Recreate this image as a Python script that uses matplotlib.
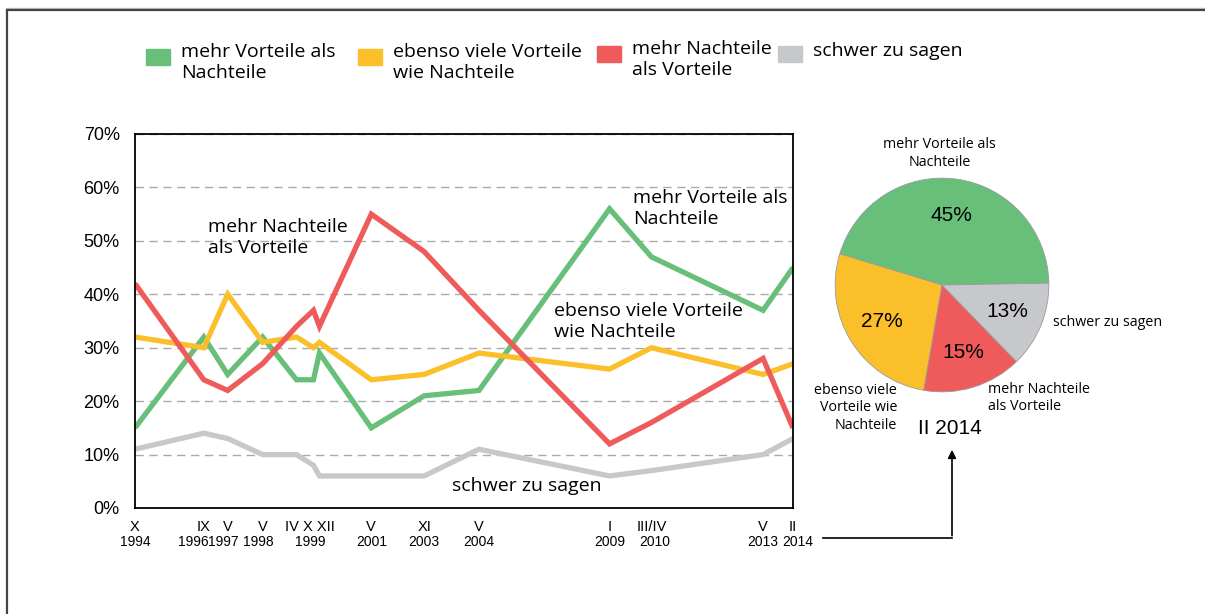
import matplotlib.pyplot as plt
from matplotlib.lines import Line2D
from matplotlib.patches import Rectangle, FancyArrowPatch

# survey waves (month, year) and their horizontal spacing as in the original chart
months = ['X', 'IX', 'V', 'V', 'IV', 'X', 'XII', 'V', 'XI', 'V', 'I', 'III/IV', 'V', 'II']
years = ['1994', '1996', '1997', '1998', '1999', '1999', '1999', '2001', '2003', '2004',
         '2009', '2010', '2013', '2014']
x_pos = [0, 6.9, 9.3, 12.8, 16.2, 17.9, 18.5, 23.7, 29.0, 34.5, 47.6, 51.8, 63.0, 66.0]

# answers in %
mehr_vorteile = [15, 32, 25, 32, 24, 24, 29, 15, 21, 22, 56, 47, 37, 45]
ebenso_viele = [32, 30, 40, 31, 32, 30, 31, 24, 25, 29, 26, 30, 25, 27]
mehr_nachteile = [42, 24, 22, 27, 34, 37, 34, 55, 48, 37, 12, 16, 28, 15]
schwer_zu_sagen = [11, 14, 13, 10, 10, 8, 6, 6, 6, 11, 6, 7, 10, 13]

legend_names = ['mehr Vorteile als\nNachteile', 'ebenso viele Vorteile\nwie Nachteile',
                'mehr Nachteile\nals Vorteile', 'schwer zu sagen']
colors = ['#67bf7a', '#fbbf2a', '#ef5b5b', '#c6c8cb']

# pie for II 2014
pie_values = [45, 27, 15, 13]
pie_names = ['mehr Vorteile als\nNachteile', 'ebenso viele\nVorteile wie\nNachteile',
             'mehr Nachteile\nals Vorteile', 'schwer zu sagen']

plt.rcParams['font.family'] = ['Liberation Sans', 'DejaVu Sans']
soft = ['Open Sans', 'DejaVu Sans']

W, H = 1205, 614
fig = plt.figure(figsize=(W / 100, H / 100), dpi=100)


def fx(px):
    return px / W


def fy(py):
    return 1 - py / H


# line chart
ax = fig.add_axes([fx(135), fy(508), fx(793) - fx(135), fy(134) - fy(508)])
for vals, c in zip([mehr_vorteile, ebenso_viele, mehr_nachteile, schwer_zu_sagen], colors):
    ax.plot(x_pos, vals, color=c, lw=3.8, solid_joinstyle='miter', solid_capstyle='butt')

ax.set_xlim(0, 66)
ax.set_ylim(0, 70)
ax.set_yticks(range(0, 71, 10))
ax.set_yticklabels([f'{v}%' for v in range(0, 71, 10)], fontsize=13)
ax.set_xticks([])
ax.tick_params(axis='y', length=0, pad=11)
ax.grid(axis='y', ls=(0, (6, 4)), color='#aaaaaa', lw=1)
ax.set_axisbelow(True)
for s in ax.spines.values():
    s.set_color('black')
    s.set_linewidth(1.3)

# x labels: group consecutive waves of the same year
year_shift = {'1996': -10, '1997': -4, '1998': -4, '2010': 3, '2014': 5}
groups = []
for x, m, y in zip(x_pos, months, years):
    if groups and groups[-1][2] == y:
        groups[-1][0].append(x)
        groups[-1][1].append(m)
    else:
        groups.append([[x], [m], y])
for xs, ms, y in groups:
    xc = sum(xs) / len(xs)
    ax.annotate(' '.join(ms), xy=(xc, 0), xycoords=('data', 'axes fraction'),
                xytext=(0, -19), textcoords='offset pixels', ha='center', va='center',
                fontsize=10.5, annotation_clip=False)
    ax.annotate(y, xy=(xc, 0), xycoords=('data', 'axes fraction'),
                xytext=(year_shift.get(y, 0), -34), textcoords='offset pixels',
                ha='center', va='center', fontsize=10, annotation_clip=False)

# series labels inside the chart
ax.text(7.3, 50.6, 'mehr Nachteile\nals Vorteile', family=soft, fontsize=14, va='center')
ax.text(50.0, 56.1, 'mehr Vorteile als\nNachteile', family=soft, fontsize=14, va='center')
ax.text(42.0, 34.9, 'ebenso viele Vorteile\nwie Nachteile', family=soft, fontsize=14, va='center')
ax.text(31.8, 4.1, 'schwer zu sagen', family=soft, fontsize=14, va='center')

# legend on top
legend_x = [146, 358, 597, 778]
legend_y = [57, 57, 54, 54]
for name, c, lx, ly in zip(legend_names, colors, legend_x, legend_y):
    fig.add_artist(Rectangle((fx(lx), fy(ly + 7.5)), fx(24), 15 / H, color=c,
                             transform=fig.transFigure))
    n_lines = name.count('\n') + 1
    ty = ly + 8.5 if n_lines == 2 else ly
    fig.text(fx(lx + 35), fy(ty - 3), name, family=soft,
             fontsize=14, va='center', ha='left')

# pie chart
pax = fig.add_axes([fx(942 - 109), fy(285 + 109), fx(218), 218 / H])
pax.pie(pie_values, colors=colors, startangle=1, counterclock=True,
        autopct='%d%%', pctdistance=0.66,
        wedgeprops=dict(edgecolor='#9a9a9a', linewidth=0.6),
        textprops=dict(fontsize=15))
pax.set_xlim(-1.02, 1.02)
pax.set_ylim(-1.02, 1.02)
pax.set_aspect('equal')
pax.text(-0.02, 1.23, pie_names[0], family=soft, fontsize=10.3, ha='center', va='center')
pax.text(-0.42, -1.15, pie_names[1], family=soft, fontsize=10.3, ha='right', va='center',
         multialignment='right')
pax.text(0.43, -1.06, pie_names[2], family=soft, fontsize=10.3, ha='left', va='center')
pax.text(1.04, -0.355, pie_names[3], family=soft, fontsize=10.3, ha='left', va='center')
pax.text(0.075, -1.34, 'II 2014', fontsize=15, ha='center', va='center')

# arrow from the last wave to the pie
fig.add_artist(Line2D([fx(823), fx(952)], [fy(538), fy(538)], color='black', lw=1.2,
                      transform=fig.transFigure))
fig.add_artist(FancyArrowPatch((fx(952), fy(538.5)), (fx(952), fy(447)), arrowstyle='-|>',
                               mutation_scale=12, color='black', lw=1.2,
                               transform=fig.transFigure))

# frame of the original page
fig.add_artist(Line2D([fx(7), 1], [fy(7.5), fy(7.5)], color='#c0c0c0', lw=1,
                      transform=fig.transFigure))
fig.add_artist(Line2D([fx(7), 1], [fy(9.5), fy(9.5)], color='#444444', lw=1.6,
                      transform=fig.transFigure))
fig.add_artist(Line2D([fx(7), fx(7)], [fy(9.5), 0], color='#444444', lw=1.6,
                      transform=fig.transFigure))

fig.savefig('out.png', dpi=100)
